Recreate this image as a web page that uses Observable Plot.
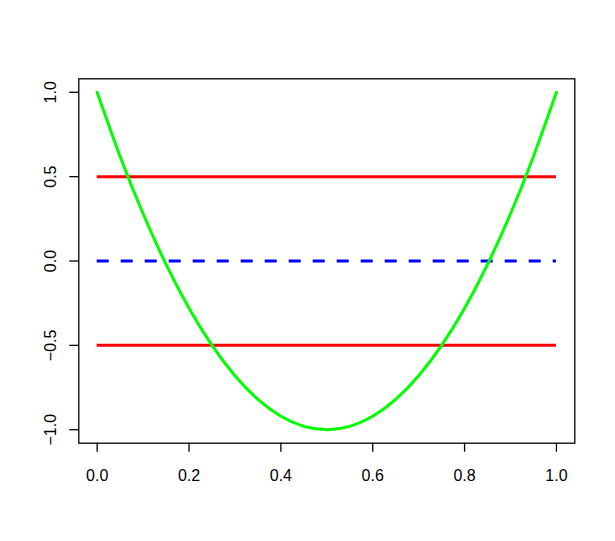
<!DOCTYPE html>
<html>
<head>
<meta charset="utf-8">
<script src="https://cdn.jsdelivr.net/npm/d3@7"></script>
<script src="https://cdn.jsdelivr.net/npm/@observablehq/plot@0.6"></script>
<style>
  html, body { margin: 0; padding: 0; background: #fff; }
  svg { display: block; }
</style>
</head>
<body>
<div id="chart"></div>
<script>
// Green curve
const curveX = [0.00, 0.05, 0.10, 0.15, 0.20, 0.25, 0.30, 0.35, 0.40, 0.45, 0.50,
                0.55, 0.60, 0.65, 0.70, 0.75, 0.80, 0.85, 0.90, 0.95, 1.00];
const curveY = [1.00, 0.62, 0.28, -0.02, -0.28, -0.50, -0.68, -0.82, -0.92, -0.98, -1.00,
                -0.98, -0.92, -0.82, -0.68, -0.50, -0.28, -0.02, 0.28, 0.62, 1.00];
// Horizontal lines
const redLevels = [0.5, -0.5];
const blueLevels = [0];
const lineStart = 0;
const lineEnd = 1;
// Ticks
const xTicks = [0.0, 0.2, 0.4, 0.6, 0.8, 1.0];
const yTicks = [-1.0, -0.5, 0.0, 0.5, 1.0];

const curve = curveX.map((x, i) => ({x, y: curveY[i]}));
const redSegs = redLevels.map(y => ({x1: lineStart, x2: lineEnd, y}));
const blueSegs = blueLevels.map(y => ({x1: lineStart, x2: lineEnd, y}));
const fmt = d3.format(".1f");

const chart = Plot.plot({
  width: 615,
  height: 541,
  marginLeft: 78.3,
  marginRight: 40.7,
  marginTop: 78.3,
  marginBottom: 98.3,
  style: {fontFamily: "Arial, 'Liberation Sans', sans-serif", fontSize: "16px", background: "#fff", color: "#000"},
  x: {domain: [-0.04, 1.04]},
  y: {domain: [-1.08, 1.08]},
  marks: [
    Plot.ruleY(redSegs, {x1: "x1", x2: "x2", y: "y", stroke: "#FF0000", strokeWidth: 3}),
    Plot.ruleY(blueSegs, {x1: "x1", x2: "x2", y: "y", stroke: "#0000FF", strokeWidth: 3, strokeDasharray: "12,12"}),
    Plot.line(curve, {x: "x", y: "y", stroke: "#00FF00", strokeWidth: 3, curve: "natural"}),
    Plot.frame({stroke: "#000", strokeWidth: 1.3}),
    Plot.axisX(xTicks, {tickSize: 9, tickPadding: 17, tickFormat: fmt, fontSize: 16, label: null, strokeWidth: 1.3}),
    Plot.axisY(yTicks, {tickSize: 9, tickFormat: () => "", label: null, strokeWidth: 1.3}),
    Plot.text(yTicks, {y: d => d, text: d => fmt(d), frameAnchor: "left", dx: -28, rotate: -90, textAnchor: "middle", fontSize: 16, fill: "#000"})
  ]
});
document.getElementById("chart").appendChild(chart);
</script>
</body>
</html>
